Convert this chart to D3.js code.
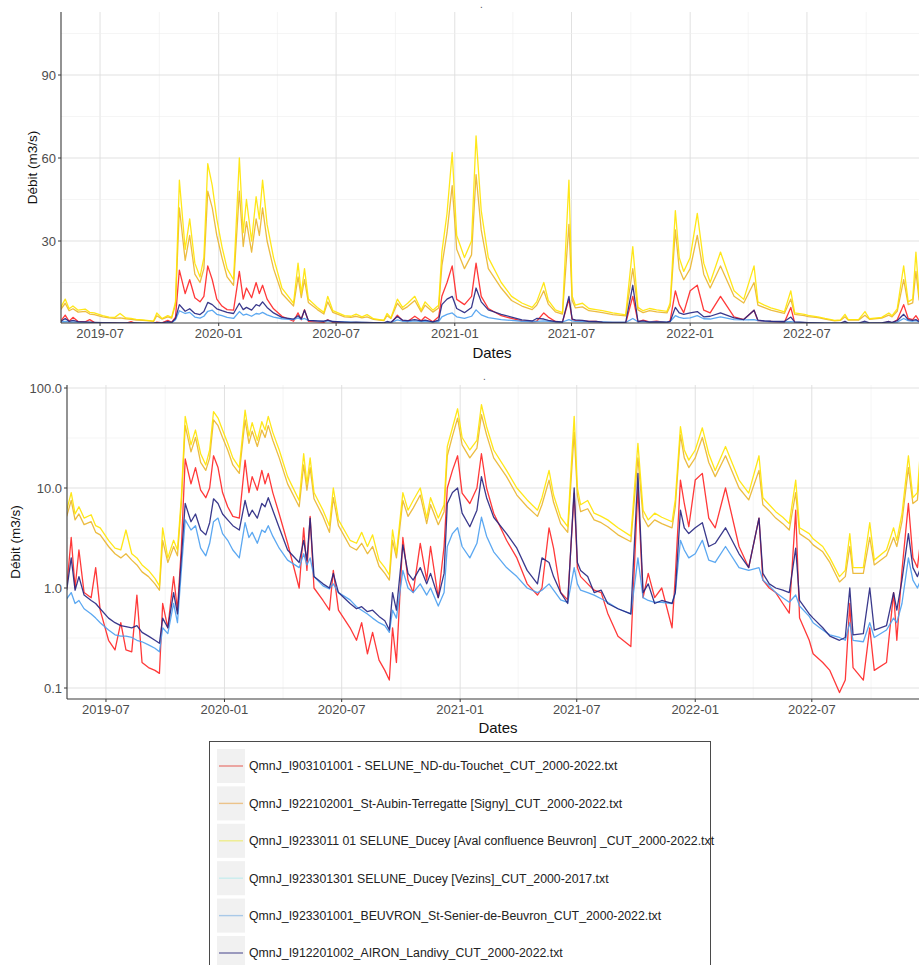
<!DOCTYPE html>
<html><head><meta charset="utf-8">
<script src="https://cdn.jsdelivr.net/npm/d3@7"></script>
<style>body{margin:0;background:#fff}svg{font-family:"Liberation Sans",Arial,sans-serif}</style>
</head><body><svg id="c" width="919" height="965"></svg>
<script>
// ---------------- DATA ----------------
const dates = [
"2019-05-01","2019-05-08","2019-05-14","2019-05-20","2019-05-28","2019-06-08","2019-06-15","2019-06-22","2019-07-05","2019-07-15","2019-07-24","2019-08-01",
"2019-08-10","2019-08-18","2019-08-26","2019-09-05","2019-09-15","2019-09-22","2019-09-27","2019-10-05","2019-10-14","2019-10-20","2019-10-26","2019-11-01",
"2019-11-10","2019-11-17","2019-11-25","2019-12-03","2019-12-09","2019-12-15","2019-12-22","2019-12-29","2020-01-06","2020-01-14","2020-01-24","2020-02-02",
"2020-02-08","2020-02-13","2020-02-21","2020-02-28","2020-03-04","2020-03-09","2020-03-16","2020-03-26","2020-04-08","2020-04-26","2020-05-03","2020-05-08",
"2020-05-13","2020-05-19","2020-06-02","2020-06-12","2020-06-18","2020-06-26","2020-07-14","2020-07-24","2020-08-01","2020-08-10","2020-08-18","2020-08-28",
"2020-09-06","2020-09-13","2020-09-18","2020-09-24","2020-10-04","2020-10-12","2020-10-20","2020-10-31","2020-11-10","2020-11-16","2020-11-28","2020-12-07",
"2020-12-12","2020-12-20","2020-12-28","2021-01-04","2021-01-16","2021-01-27","2021-02-03","2021-02-11","2021-02-22","2021-03-14","2021-03-30","2021-04-15",
"2021-05-01","2021-05-08","2021-05-19","2021-05-26","2021-06-06","2021-06-17","2021-06-27","2021-07-02","2021-07-07","2021-07-18","2021-07-28","2021-08-08",
"2021-08-18","2021-09-03","2021-09-23","2021-10-04","2021-10-12","2021-10-20","2021-10-30","2021-11-10","2021-11-26","2021-12-01","2021-12-09","2021-12-15",
"2021-12-22","2022-01-01","2022-01-12","2022-01-22","2022-02-01","2022-02-17","2022-03-10","2022-03-25","2022-04-10","2022-04-16","2022-04-26","2022-05-06",
"2022-05-17","2022-05-27","2022-06-06","2022-06-12","2022-06-27","2022-07-03","2022-07-18","2022-07-29","2022-08-13","2022-08-22","2022-08-29","2022-09-03",
"2022-09-19","2022-09-29","2022-10-06","2022-10-25","2022-11-05","2022-11-10","2022-11-18","2022-11-28","2022-12-05","2022-12-12","2022-12-17","2022-12-22"];

const touchet = [
1.0,3.2,1.0,2.4,0.9,0.8,1.6,0.6,0.3,0.24,0.45,0.24,
0.23,0.85,0.18,0.16,0.15,0.14,0.7,0.4,1.3,0.6,2.5,19.5,
11,16,9.5,8,10,21,16,9,6.5,5.2,5.0,19,
9,13,9.5,15,11,14,9,5.5,2.8,1.0,4.0,1.5,
5.2,1.0,0.75,0.6,1.5,0.6,0.4,0.3,0.45,0.22,0.36,0.19,
0.15,0.12,0.4,0.18,3.2,1.2,0.9,2.8,1.2,2.6,0.8,2.6,
10,15,21,8.9,7,10,22,10,5.6,3.0,2.0,1.1,
0.85,1.0,4.0,2.5,0.9,0.76,8.9,1.6,1.3,1.1,0.95,0.9,
0.56,0.33,0.26,10,0.8,1.4,0.8,1.0,0.4,1.3,12,7,
4.1,12,14,5.0,4.0,10,2.6,1.6,5.0,1.2,1.0,0.9,
0.7,0.56,6.0,0.5,0.3,0.22,0.18,0.15,0.09,0.12,0.7,0.16,
0.12,0.4,0.15,0.18,0.9,0.3,1.5,7,2.0,1.6,3.0,1.2];

const stAubin = [
5.2,7.5,4.8,5.5,4.3,4.6,3.6,3.4,2.6,2.2,2.0,2.2,
1.9,1.7,1.45,1.3,1.1,0.95,3.0,1.8,2.6,2.1,7.0,42,
23,32,18,15,20,48,42,32,24,17,14,48,
28,37,26,38,32,42,30,20,11,6.5,17,9.5,
16,7.8,5.2,3.6,8,4.2,2.6,2.4,2.8,2.2,2.6,1.65,
1.4,1.2,3.0,2.0,7.5,5.2,6.3,8.5,4.4,6.8,4.3,5.8,
21,33,50,27,20,25,54,34,20,13,8.5,6.5,
5.2,6.8,12,7.2,4.4,3.6,36,8.5,5.8,6.2,4.8,4.5,
4.1,3.4,2.9,20,5.1,4.1,4.8,4.4,4.0,6.5,34,20,
16,20,32,18,13,21,10,7.6,15,6.8,5.9,5.0,
4.4,3.8,9,3.5,3.0,2.7,2.3,1.8,1.15,1.3,2.6,1.4,
1.4,3.2,1.7,2.1,3.2,2.6,4.6,16,7,7.6,19,8.5];

const duceyAval = [
6.0,9.0,5.5,6.5,5.0,5.4,4.2,4.0,3.0,2.5,2.4,3.8,
2.2,2.0,1.7,1.5,1.25,1.05,4.0,2.0,3.0,2.4,8.0,52,
27,38,22,17,24,58,50,38,28,20,16,60,
33,45,30,46,38,52,36,24,13,7.5,22,11,
20,9,6,4.2,10,4.8,3.0,2.8,3.6,2.6,3.4,1.9,
1.6,1.35,3.8,2.2,9,6,7.5,10,5.0,8,5.0,6.8,
26,40,62,32,24,30,68,41,24,15,10,7.6,
6.0,8,15,8.5,5.1,4.1,52,10,6.8,7.5,5.6,5.2,
4.8,4.0,3.3,28,6.0,4.8,5.6,5.1,4.6,7.6,41,24,
19,24,40,22,15,26,12,8.9,21,8.0,6.8,5.8,
5.1,4.4,12,4.0,3.5,3.1,2.6,2.0,1.3,1.5,3.5,1.6,
1.6,4.5,1.9,2.4,4.0,3.0,5.5,21,8,9,26,10];

const vezins = []; // 2000-2017 series: no values in the displayed period

const beuvron = [
0.78,0.9,0.7,0.75,0.62,0.55,0.5,0.45,0.38,0.34,0.33,0.33,
0.32,0.3,0.29,0.27,0.25,0.23,0.4,0.35,0.7,0.45,1.5,4.8,
3.8,4.2,2.5,2.1,2.8,4.6,5.0,3.5,3.0,2.4,2.0,4.5,
3.2,3.6,2.8,3.8,3.6,4.2,3.3,2.5,1.9,1.6,2.2,1.7,
2.0,1.3,1.05,0.98,1.1,0.9,0.76,0.65,0.6,0.55,0.5,0.45,
0.42,0.36,0.6,0.5,1.5,1.0,0.9,1.1,0.85,1.0,0.66,0.9,
2.6,3.5,4.0,2.6,2.0,2.8,5.1,3.3,2.3,1.6,1.3,1.0,
0.9,0.95,1.1,0.95,0.76,0.72,1.6,1.1,0.95,0.9,0.85,0.78,
0.72,0.62,0.55,2.0,0.8,0.75,0.72,0.72,0.7,0.9,3.0,2.4,
2.0,2.2,3.0,1.9,1.8,2.6,1.6,1.5,1.6,1.2,1.05,0.9,
0.8,0.72,0.85,0.66,0.52,0.45,0.38,0.34,0.32,0.3,0.45,0.3,
0.29,0.45,0.32,0.38,0.5,0.45,0.7,2.0,1.2,1.0,1.2,0.8];

const airon = [
0.95,2.0,0.95,1.3,0.85,0.75,0.7,0.62,0.5,0.45,0.42,0.41,
0.4,0.42,0.36,0.33,0.3,0.28,0.5,0.4,0.9,0.55,2.0,7.0,
4.6,5.5,3.8,3.4,4.5,7.8,7.0,5.5,4.8,4.2,3.8,7.5,
5.2,6.0,5.0,7.0,6.5,8.0,6.0,4.0,2.4,1.8,3.0,1.9,
5.0,1.3,1.1,1.0,1.4,0.9,0.7,0.62,0.65,0.58,0.6,0.52,
0.47,0.38,0.9,0.6,2.7,1.4,1.2,1.6,1.1,1.4,0.8,1.4,
7.0,9.0,10,5.6,4.1,6,13,8,5.1,3.5,2.5,1.5,
1.1,2.0,1.8,1.3,0.9,0.7,10,1.8,1.5,1.3,0.9,0.95,
0.7,0.62,0.55,14,0.9,1.1,0.7,0.75,0.7,0.9,6,4,
3.5,4,4.5,2.6,2.8,4,2.2,1.6,5.0,1.4,1.1,1.0,
0.95,0.9,2.5,0.75,0.55,0.5,0.4,0.33,0.3,0.32,1.0,0.34,
0.35,1.0,0.38,0.42,0.9,0.6,1.2,3.5,1.6,1.3,1.6,0.9];

const seriesNames = [
"QmnJ_I903101001 - SELUNE_ND-du-Touchet_CUT_2000-2022.txt",
"QmnJ_I922102001_St-Aubin-Terregatte [Signy]_CUT_2000-2022.txt",
"QmnJ_I9233011 01 SELUNE_Ducey [Aval confluence Beuvron] _CUT_2000-2022.txt",
"QmnJ_I923301301 SELUNE_Ducey [Vezins]_CUT_2000-2017.txt",
"QmnJ_I923301001_BEUVRON_St-Senier-de-Beuvron_CUT_2000-2022.txt",
"QmnJ_I912201002_AIRON_Landivy_CUT_2000-2022.txt"];
const seriesValues = [touchet, stAubin, duceyAval, vezins, beuvron, airon];

const linearTicks = [30, 60, 90];
const logTicks = [0.1, 1, 10, 100];
const dateTicks = ["2019-07-01","2020-01-01","2020-07-01","2021-01-01","2021-07-01","2022-01-01","2022-07-01"];

// ---------------- STYLE ----------------
const colors = ["#ff2424","#eab52c","#ffe400","#a9e2e6","#4a9ff0","#25237f"];
const legendColors = ["#e8847f","#ecc38a","#eeec8c","#c9ecee","#a9c9e8","#7473a6"];

const parse = d3.utcParse("%Y-%m-%d");
const series = seriesValues.map((vals, i) => ({
  name: seriesNames[i],
  color: colors[i],
  pts: vals.map((v, j) => ({date: parse(dates[j]), v: v})).filter(p => p.date && p.v != null)
}));

const svg = d3.select("#c");
const xDomain = [parse("2019-05-01"), parse("2023-01-01")];
const W = 919;

function panel(cfg) {
  const g = svg.append("g");
  const x = d3.scaleUtc().domain(xDomain).range(cfg.xr);
  const y = cfg.y;
  const left = cfg.left, top = cfg.top, bottom = cfg.bottom;
  const gridDates = d3.utcMonth.every(3).range(xDomain[0], xDomain[1]);
  g.selectAll(".vg").data(gridDates).join("line")
    .attr("x1", d => x(d)).attr("x2", d => x(d)).attr("y1", top).attr("y2", bottom)
    .attr("stroke", d => (d.getUTCMonth() % 6 === 0) ? "#dedede" : "#efefef")
    .attr("stroke-width", d => (d.getUTCMonth() % 6 === 0) ? 0.9 : 0.6)
    .attr("display", d => (x(d) > left && x(d) < W) ? null : "none");
  g.selectAll(".hmin").data(cfg.minorY).join("line")
    .attr("x1", left).attr("x2", W).attr("y1", d => y(d)).attr("y2", d => y(d))
    .attr("stroke", "#efefef").attr("stroke-width", 0.6);
  g.selectAll(".hmaj").data(cfg.majorY).join("line")
    .attr("x1", left).attr("x2", W).attr("y1", d => y(d)).attr("y2", d => y(d))
    .attr("stroke", "#dedede").attr("stroke-width", 0.9);
  const cid = "clip" + cfg.id;
  svg.append("defs").append("clipPath").attr("id", cid)
    .append("rect").attr("x", left).attr("y", top).attr("width", W - left).attr("height", bottom - top);
  const lg = g.append("g").attr("clip-path", `url(#${cid})`);
  const line = d3.line().x(d => x(d.date)).y(d => y(Math.max(d.v, 0.01)));
  series.forEach(s => {
    if (!s.pts.length) return;
    lg.append("path").datum(s.pts).attr("d", line)
      .attr("fill", "none").attr("stroke", s.color).attr("stroke-width", 1.3)
      .attr("stroke-opacity", 0.9).attr("stroke-linejoin", "round");
  });
  g.append("line").attr("x1", left).attr("x2", left).attr("y1", top).attr("y2", bottom)
    .attr("stroke", "#3a3a3a").attr("stroke-width", 1.1);
  g.append("line").attr("x1", left).attr("x2", W).attr("y1", bottom).attr("y2", bottom)
    .attr("stroke", "#3a3a3a").attr("stroke-width", 1.1);
  g.selectAll(".yt").data(cfg.majorY).join("line")
    .attr("x1", left - 3).attr("x2", left).attr("y1", d => y(d)).attr("y2", d => y(d))
    .attr("stroke", "#3a3a3a");
  g.selectAll(".yl").data(cfg.majorY).join("text")
    .attr("x", left - 5).attr("y", d => y(d)).attr("dy", "0.35em")
    .attr("text-anchor", "end").attr("font-size", 13).attr("fill", "#4d4d4d")
    .text(cfg.fmt);
  const dt = dateTicks.map(parse);
  g.selectAll(".xt").data(dt).join("line")
    .attr("x1", d => x(d)).attr("x2", d => x(d)).attr("y1", bottom).attr("y2", bottom + 3)
    .attr("stroke", "#3a3a3a");
  g.selectAll(".xl").data(dt).join("text")
    .attr("x", d => x(d)).attr("y", bottom + cfg.tickBase)
    .attr("text-anchor", "middle").attr("font-size", 13).attr("fill", "#4d4d4d")
    .text(d3.utcFormat("%Y-%m"));
  g.append("text").attr("x", cfg.xTitleX).attr("y", cfg.xTitleY).attr("text-anchor", "middle")
    .attr("font-size", 15).attr("fill", "#111").text("Dates");
  g.append("text").attr("transform", `translate(${cfg.yTitleX},${(top + bottom) / 2}) rotate(-90)`)
    .attr("text-anchor", "middle").attr("font-size", 13.5).attr("fill", "#111").text("Débit (m3/s)");
}

panel({
  id: "a", left: 61, top: 12, bottom: 323, xr: [60.7, 925.6],
  y: d3.scaleLinear().domain([0, 90]).range([324, 75]),
  majorY: linearTicks, minorY: [15, 45, 75, 105],
  fmt: d3.format("d"), tickBase: 15, xTitleX: 492, xTitleY: 358, yTitleX: 37
});
panel({
  id: "b", left: 67, top: 385, bottom: 699, xr: [66.7, 930.3],
  y: d3.scaleLog().domain([0.1, 100]).range([688, 388]),
  majorY: logTicks, minorY: [Math.sqrt(0.1), Math.sqrt(10), Math.sqrt(1000)],
  fmt: d3.format(".1f"), tickBase: 15, xTitleX: 498, xTitleY: 733, yTitleX: 20
});

svg.append("text").attr("x", 480).attr("y", 8).attr("font-size", 10).attr("fill", "#555").text(".");
svg.append("text").attr("x", 483).attr("y", 380).attr("font-size", 10).attr("fill", "#555").text(".");

const lgd = svg.append("g");
lgd.append("rect").attr("x", 209.5).attr("y", 741.5).attr("width", 501).attr("height", 240)
  .attr("fill", "#fff").attr("stroke", "#4a4a4a").attr("stroke-width", 1);
const rowY = d3.scaleLinear().domain([0, 5]).range([766, 953]);
seriesNames.forEach((n, i) => {
  const cy = rowY(i);
  lgd.append("rect").attr("x", 217).attr("y", cy - 17).attr("width", 28).attr("height", 34).attr("fill", "#f1f1f1");
  lgd.append("line").attr("x1", 219).attr("x2", 243).attr("y1", cy).attr("y2", cy)
    .attr("stroke", legendColors[i]).attr("stroke-width", 1.4);
  lgd.append("text").attr("x", 249).attr("y", cy).attr("dy", "0.35em")
    .attr("font-size", 12.3).attr("fill", "#222").text(n);
});
</script></body></html>
